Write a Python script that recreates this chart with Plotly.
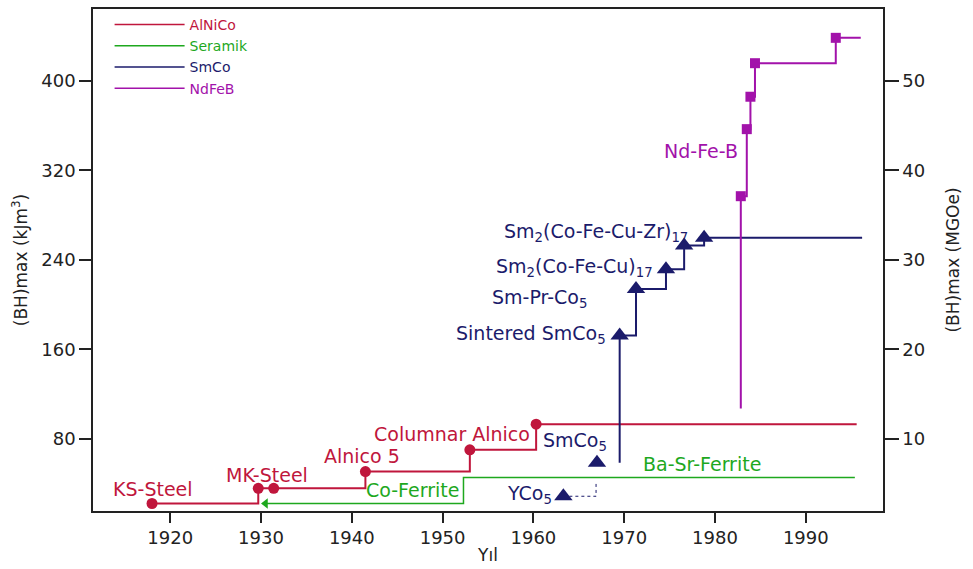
import plotly.graph_objects as go

# ---- data (year, (BH)max in kJ/m^3) ----
alnico_years = [1918.0, 1929.7, 1931.4, 1941.5, 1953.0, 1960.3, 1995.6]
alnico_vals = [22.0, 35.6, 35.6, 50.6, 70.0, 93.0, 93.0]

ferrite_years = [1930.5, 1952.3, 1995.4]
ferrite_vals = [22.0, 45.3, 45.3]

smco_years = [1969.5, 1969.5, 1971.3, 1974.6, 1976.6, 1978.8, 1996.2]
smco_vals = [58.5, 172.4, 214.0, 231.6, 252.8, 259.9, 259.9]

yco5_years = [1963.3, 1966.9, 1966.9]
yco5_vals = [28.5, 28.5, 39.7]

smco5_year = [1967.0]
smco5_val = [58.5]

ndfeb_years = [1982.84, 1982.84, 1983.5, 1983.9, 1984.4, 1993.3, 1996.05]
ndfeb_vals = [107.0, 297.0, 357.0, 386.0, 416.0, 438.7, 438.7]

legend_names = ["AlNiCo", "Seramik", "SmCo", "NdFeB"]

x_ticks = [1920, 1930, 1940, 1950, 1960, 1970, 1980, 1990]
y_ticks = [80, 160, 240, 320, 400]
y2_ticks = [10, 20, 30, 40, 50]

RED = "#C0163C"
GREEN = "#1EA81E"
BLUE = "#1B1B6B"
MAG = "#A212AA"

FONT = "DejaVu Sans, Verdana, sans-serif"

fig = go.Figure()

# legend-only traces
for name, col in zip(legend_names, [RED, GREEN, BLUE, MAG]):
    fig.add_trace(go.Scatter(
        x=[None], y=[None], mode="lines", line=dict(color=col, width=1.5),
        name=f"<span style='color:{col}'>{name}</span>", showlegend=True))


def mk(symbol, size, col):
    return dict(symbol=symbol, size=size, color=col, opacity=1,
                line=dict(width=0, color=col))


# AlNiCo
fig.add_trace(go.Scatter(
    x=alnico_years, y=alnico_vals, mode="lines+markers", line_shape="hv",
    line=dict(color=RED, width=2),
    marker=mk("circle", [11] * 6 + [0], RED),
    showlegend=False))

# Ferrite
fig.add_trace(go.Scatter(
    x=ferrite_years, y=ferrite_vals, mode="lines+markers", line_shape="hv",
    line=dict(color=GREEN, width=1.5),
    marker=mk("triangle-left", [9, 0, 0], GREEN),
    showlegend=False))

# YCo5 dotted
fig.add_trace(go.Scatter(
    x=yco5_years, y=yco5_vals, mode="lines+markers",
    line=dict(color=BLUE, width=1, dash="dot"),
    marker=mk("triangle-up", [16, 0, 0], BLUE),
    showlegend=False))

# SmCo5 point
fig.add_trace(go.Scatter(
    x=smco5_year, y=smco5_val, mode="markers",
    marker=mk("triangle-up", 16, BLUE),
    showlegend=False))

# SmCo
fig.add_trace(go.Scatter(
    x=smco_years, y=smco_vals, mode="lines+markers", line_shape="hv",
    line=dict(color=BLUE, width=2),
    marker=mk("triangle-up", [0, 16, 16, 16, 16, 16, 0], BLUE),
    showlegend=False))

# NdFeB
fig.add_trace(go.Scatter(
    x=ndfeb_years, y=ndfeb_vals, mode="lines+markers", line_shape="hv",
    line=dict(color=MAG, width=2),
    marker=mk("square", [0, 10, 10, 10, 10, 10, 0], MAG),
    showlegend=False))

# dummy for right axis
fig.add_trace(go.Scatter(x=[None], y=[None], yaxis="y2", showlegend=False))

labels = [
    ("KS-Steel", 1918.1, 34.7, RED, "center"),
    ("MK-Steel", 1930.7, 47.9, RED, "center"),
    ("Alnico 5", 1941.1, 64.7, RED, "center"),
    ("Columnar Alnico", 1951.0, 84.2, RED, "center"),
    ("Co-Ferrite", 1946.7, 33.8, GREEN, "center"),
    ("Ba-Sr-Ferrite", 1978.6, 57.7, GREEN, "center"),
    ("YCo<sub>5</sub>", 1959.6, 30.0, BLUE, "center"),
    ("SmCo<sub>5</sub>", 1964.6, 77.5, BLUE, "center"),
    ("Sintered SmCo<sub>5</sub>", 1968.2, 173.5, BLUE, "right"),
    ("Sm-Pr-Co<sub>5</sub>", 1966.1, 205.5, BLUE, "right"),
    ("Sm<sub>2</sub>(Co-Fe-Cu)<sub>17</sub>", 1973.4, 233.5, BLUE, "right"),
    ("Sm<sub>2</sub>(Co-Fe-Cu-Zr)<sub>17</sub>", 1977.3, 264.5, BLUE, "right"),
    ("Nd-Fe-B", 1982.7, 337.6, MAG, "right"),
]
for txt, x, y, col, anc in labels:
    fig.add_annotation(x=x, y=y, text=txt, showarrow=False, xanchor=anc,
                       yanchor="middle", font=dict(family=FONT, size=19, color=col))

axis_common = dict(showline=True, linecolor="#222", linewidth=1.5, ticks="outside",
                   tickcolor="#222", tickwidth=1.5, showgrid=False, zeroline=False,
                   tickfont=dict(family=FONT, size=18, color="#222"))

fig.update_layout(
    width=973, height=569,
    margin=dict(l=93, r=90, t=7, b=54),
    plot_bgcolor="white", paper_bgcolor="white",
    font=dict(family=FONT, color="#222"),
    xaxis=dict(range=[1911.5, 1998.5], tickvals=x_ticks, mirror=True, ticklen=10,
               title=dict(text="Yıl", font=dict(family=FONT, size=17), standoff=2),
               **axis_common),
    yaxis=dict(range=[15.3, 464.5], tickvals=y_ticks, ticklen=12,
               title=dict(text="(BH)max (kJm<sup>3</sup>)", font=dict(family=FONT, size=17), standoff=9),
               **axis_common),
    yaxis2=dict(range=[15.3 / 8, 464.5 / 8], tickvals=y2_ticks, overlaying="y", side="right",
                ticklen=14,
                title=dict(text="(BH)max (MGOe)", font=dict(family=FONT, size=17), standoff=23),
                **axis_common),
    legend=dict(x=0.021, y=1.0, xanchor="left", yanchor="top", bgcolor="rgba(0,0,0,0)",
                font=dict(family=FONT, size=14), tracegroupgap=0, itemwidth=70),
)

fig.write_html("out.html")
